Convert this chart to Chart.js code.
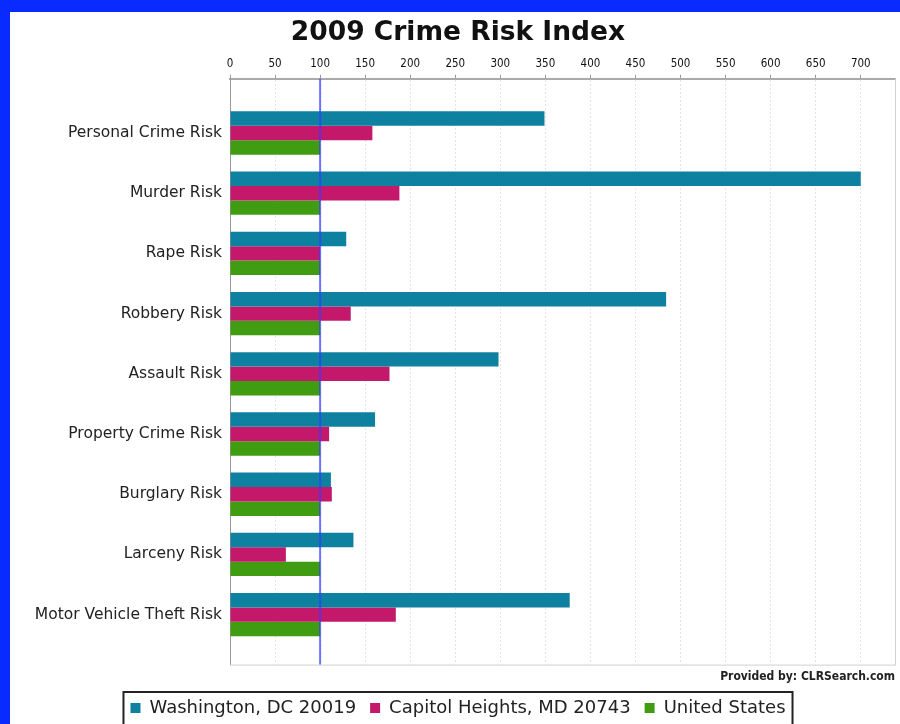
<!DOCTYPE html>
<html>
<head>
<meta charset="utf-8">
<title>2009 Crime Risk Index</title>
<script src="https://cdn.jsdelivr.net/npm/chart.js@4.4.1/dist/chart.umd.min.js"></script>
<style>
  html, body { margin: 0; padding: 0; background: #0a2bff; overflow: hidden; }
  #cadre { position: absolute; left: 10px; top: 12px; width: 890px; height: 712px; background: #fff; }
</style>
</head>
<body>
<div id="cadre"><canvas id="graph"></canvas></div>
<script>
// Catégories de risque (axe vertical, de haut en bas)
const categories = [
  "Personal Crime Risk",
  "Murder Risk",
  "Rape Risk",
  "Robbery Risk",
  "Assault Risk",
  "Property Crime Risk",
  "Burglary Risk",
  "Larceny Risk",
  "Motor Vehicle Theft Risk"
];

// Indices par zone (100 = moyenne nationale)
const washington = [349, 700, 129, 484, 298, 161, 112, 137, 377];
const capitolHeights = [158, 188, 100, 134, 177, 110, 113, 62, 184];
const unitedStates = [100, 100, 100, 100, 100, 100, 100, 100, 100];

const seriesLabels = ["Washington, DC 20019", "Capitol Heights, MD 20743", "United States"];
const couleurs = ["#0e80a0", "#c4186a", "#409c10"];

// Axe des indices
const indexMin = 0;
const indexMax = 738;
const indexPas = 50;
const indexMoyen = 100;

function points(valeurs) {
  return valeurs.map((v, i) => ({ x: v, y: i }));
}

// Ligne bleue de la moyenne nationale + cadre du graphique
const ligneMoyenne = {
  id: 'ligneMoyenne',
  afterDatasetsDraw(chart) {
    const { ctx, chartArea, scales: { x } } = chart;
    ctx.save();
    ctx.strokeStyle = '#d0d0d0';
    ctx.lineWidth = 1;
    ctx.beginPath();
    ctx.moveTo(chartArea.left, chartArea.bottom + 0.5);
    ctx.lineTo(chartArea.right + 0.5, chartArea.bottom + 0.5);
    ctx.lineTo(chartArea.right + 0.5, chartArea.top);
    ctx.stroke();

    const px = x.getPixelForValue(indexMoyen);
    ctx.strokeStyle = 'rgba(50, 60, 255, 0.7)';
    ctx.lineWidth = 2;
    ctx.beginPath();
    ctx.moveTo(px, chartArea.top);
    ctx.lineTo(px, chartArea.bottom);
    ctx.stroke();
    ctx.restore();
  }
};

// Cadre noir autour de la légende
const cadreLegende = {
  id: 'cadreLegende',
  afterDraw(chart) {
    const boites = chart.legend.legendHitBoxes;
    if (!boites || !boites.length) return;
    const gauche = Math.min(...boites.map(b => b.left)) - 7;
    const droite = Math.max(...boites.map(b => b.left + b.width)) + 7;
    const haut = Math.min(...boites.map(b => b.top)) - 7;
    const bas = Math.max(...boites.map(b => b.top + b.height)) + 8;
    const ctx = chart.ctx;
    ctx.save();
    ctx.strokeStyle = '#222';
    ctx.lineWidth = 2;
    ctx.strokeRect(gauche, haut, droite - gauche, bas - haut);
    ctx.restore();
  }
};

new Chart(document.getElementById("graph"), {
  type: 'bar',
  data: {
    datasets: [
      { label: seriesLabels[0], data: points(washington), backgroundColor: couleurs[0], borderWidth: 0 },
      { label: seriesLabels[1], data: points(capitolHeights), backgroundColor: couleurs[1], borderWidth: 0 },
      { label: seriesLabels[2], data: points(unitedStates), backgroundColor: couleurs[2], borderWidth: 0 }
    ]
  },
  options: {
    indexAxis: 'y',
    responsive: true,
    maintainAspectRatio: false,
    animation: false,
    categoryPercentage: 0.72,
    barPercentage: 1.0,
    layout: { padding: { top: 0, right: 5, bottom: -3, left: 11 } },
    scales: {
      x: {
        position: 'top',
        min: indexMin,
        max: indexMax,
        ticks: {
          stepSize: indexPas,
          includeBounds: false,
          maxRotation: 0,
          padding: 4,
          color: '#111',
          font: { family: 'DejaVu Sans Condensed', size: 11.5 }
        },
        grid: { color: '#e4e4e4', tickColor: '#999', tickLength: 4 },
        border: { color: '#aaa', width: 2, dash: [2, 2] },
        afterFit: (axe) => { axe.height = 27; }
      },
      y: {
        type: 'linear',
        reverse: true,
        offset: false,
        min: -0.9,
        max: 8.83,
        afterBuildTicks: (axe) => { axe.ticks = categories.map((c, i) => ({ value: i })); },
        ticks: {
          autoSkip: false,
          padding: 8,
          color: '#222',
          font: { family: 'DejaVu Sans', size: 15.5 },
          callback: (v) => categories[v]
        },
        grid: { display: false, drawTicks: false, offset: false },
        border: { color: '#999', width: 1 },
        afterFit: (axe) => { axe.width = 209; }
      }
    },
    plugins: {
      title: {
        display: true,
        text: '2009 Crime Risk Index',
        color: '#111',
        font: { family: 'DejaVu Sans', size: 26.5, weight: 'bold' },
        padding: { top: 5, bottom: 3 }
      },
      subtitle: {
        display: true,
        position: 'bottom',
        align: 'end',
        text: 'Provided by: CLRSearch.com',
        color: '#222',
        font: { family: 'DejaVu Sans Condensed', size: 12, weight: 'bold' },
        padding: { top: 5, bottom: 1 }
      },
      legend: {
        position: 'bottom',
        weight: 2000,
        labels: {
          boxWidth: 10,
          boxHeight: 10,
          padding: 14,
          color: '#222',
          font: { family: 'DejaVu Sans', size: 18 }
        }
      },
      tooltip: { enabled: false }
    }
  },
  plugins: [ligneMoyenne, cadreLegende]
});
</script>
</body>
</html>
